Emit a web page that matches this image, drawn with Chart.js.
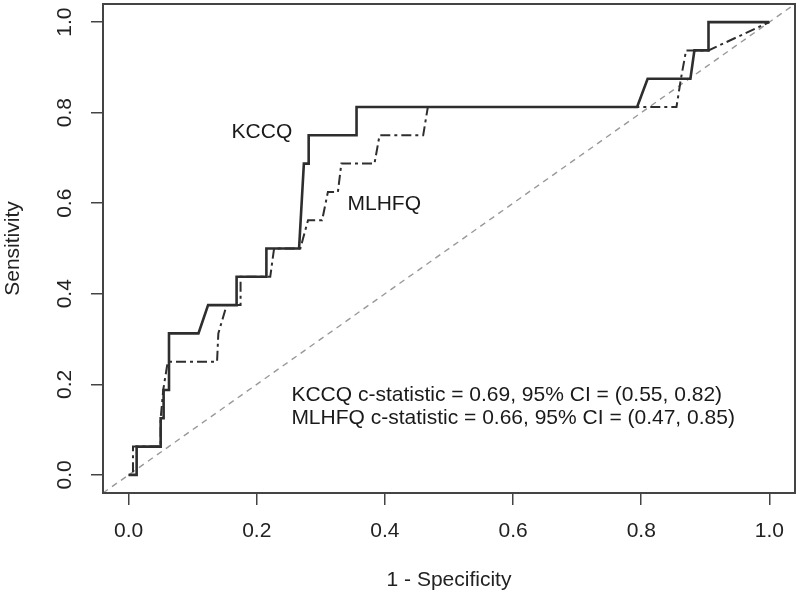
<!DOCTYPE html>
<html><head><meta charset="utf-8">
<script src="https://cdn.jsdelivr.net/npm/chart.js@4.4.1/dist/chart.umd.min.js"></script>
<style>html,body{margin:0;padding:0;background:#fff;}#wrap{width:800px;height:600px;}</style>
</head><body><div id="wrap"><canvas id="c" width="800" height="600"></canvas></div>
<script>
// ROC curve data (1 - specificity, sensitivity)
const kccqFpr = [0, 0.0125, 0.0125, 0.05, 0.05, 0.0546, 0.0546, 0.063, 0.063, 0.109, 0.124, 0.1685, 0.1685, 0.215, 0.215, 0.266, 0.2735, 0.281, 0.281, 0.3557, 0.3557, 0.7936, 0.81, 0.8768, 0.883, 0.905, 0.905, 1];
const kccqTpr = [0, 0, 0.0625, 0.0625, 0.125, 0.125, 0.1875, 0.1875, 0.3125, 0.3125, 0.375, 0.375, 0.4375, 0.4375, 0.5, 0.5, 0.6875, 0.6875, 0.75, 0.75, 0.8125, 0.8125, 0.875, 0.875, 0.9375, 0.9375, 1, 1];
const mlhfqFpr = [0, 0.0068, 0.0068, 0.05, 0.05, 0.054, 0.061, 0.138, 0.140, 0.153, 0.1747, 0.1747, 0.221, 0.227, 0.268, 0.28, 0.302, 0.311, 0.3266, 0.332, 0.3837, 0.3916, 0.4597, 0.467, 0.855, 0.862, 0.870, 0.905, 1];
const mlhfqTpr = [0, 0, 0.0625, 0.0625, 0.125, 0.1875, 0.25, 0.25, 0.3125, 0.375, 0.375, 0.4375, 0.4375, 0.5, 0.5, 0.5625, 0.5625, 0.625, 0.625, 0.6875, 0.6875, 0.75, 0.75, 0.8125, 0.8125, 0.875, 0.9375, 0.9375, 1];
const tickValues = [0, 0.2, 0.4, 0.6, 0.8, 1.0];
const tickLabels = ['0.0', '0.2', '0.4', '0.6', '0.8', '1.0'];
const axisMin = -0.04, axisMax = 1.04;
const curveNames = ['KCCQ', 'MLHFQ'];
const statLines = ['KCCQ c-statistic = 0.69, 95% CI = (0.55, 0.82)', 'MLHFQ c-statistic = 0.66, 95% CI = (0.47, 0.85)'];
const xTitle = '1 - Specificity';
const yTitle = 'Sensitivity';

// text placement (in axis units)
const place = {
  names: [{x: 0.208, y: 0.757}, {x: 0.399, y: 0.597}],
  statsX: 0.254,
  statsY: [0.175, 0.126]
};

const FONT = '"Liberation Sans", Arial, Helvetica, sans-serif';
const pts = (xs, ys) => xs.map((v, i) => ({x: v, y: ys[i]}));

const framePlugin = {
  id: 'frame',
  afterDatasetsDraw(chart) {
    const {ctx, chartArea: a, scales: {x, y}} = chart;
    ctx.save();
    ctx.strokeStyle = '#444';
    ctx.lineWidth = 2;
    ctx.strokeRect(a.left, a.top, a.right - a.left, a.bottom - a.top);
    ctx.fillStyle = '#1a1a1a';
    ctx.font = '21px ' + FONT;
    ctx.textBaseline = 'middle';
    ctx.textAlign = 'center';
    curveNames.forEach((t, i) => ctx.fillText(t, x.getPixelForValue(place.names[i].x), y.getPixelForValue(place.names[i].y)));
    ctx.textAlign = 'left';
    statLines.forEach((t, i) => ctx.fillText(t, x.getPixelForValue(place.statsX), y.getPixelForValue(place.statsY[i])));
    ctx.restore();
  }
};

const setTicks = s => { s.ticks = tickValues.map(v => ({value: v})); };
const lab = v => { const i = tickValues.findIndex(t => Math.abs(t - v) < 1e-9); return i >= 0 ? tickLabels[i] : ''; };

new Chart(document.getElementById('c'), {
  type: 'scatter',
  data: {
    datasets: [
      {label: 'KCCQ', data: pts(kccqFpr, kccqTpr), showLine: true, borderColor: '#2e2e2e', borderWidth: 2.6, pointRadius: 0, fill: false, tension: 0, order: 0},
      {label: 'MLHFQ', data: pts(mlhfqFpr, mlhfqTpr), showLine: true, borderColor: '#2e2e2e', borderWidth: 2, borderDash: [3, 4, 10, 4], pointRadius: 0, fill: false, tension: 0, order: 1},
      {label: 'ref', data: pts([axisMin, axisMax], [axisMin, axisMax]), showLine: true, borderColor: '#999', borderWidth: 1.4, borderDash: [6, 5], pointRadius: 0, fill: false, order: 2}
    ]
  },
  options: {
    responsive: false,
    animation: false,
    devicePixelRatio: 1,
    layout: {padding: {top: 4, right: 5, left: 0, bottom: 0}},
    plugins: {legend: {display: false}, tooltip: {enabled: false}},
    scales: {
      x: {
        type: 'linear', min: axisMin, max: axisMax,
        afterBuildTicks: setTicks,
        afterFit: s => { s.height = 107; s.paddingLeft = 0; s.paddingRight = 0; },
        ticks: {callback: v => lab(v), font: {size: 21, family: FONT}, color: '#222', padding: 14, maxRotation: 0, autoSkip: false},
        grid: {drawOnChartArea: false, drawTicks: true, tickLength: 12, color: '#444', lineWidth: 1.5},
        border: {display: false},
        title: {display: true, text: xTitle, font: {size: 21, family: FONT}, color: '#222', padding: {top: 0, bottom: 7}}
      },
      y: {
        type: 'linear', min: axisMin, max: axisMax,
        afterBuildTicks: setTicks,
        afterFit: s => { s.width = 103; s.paddingTop = 0; s.paddingBottom = 0; },
        ticks: {callback: v => lab(v), font: {size: 21, family: FONT}, color: '#222', padding: 11, minRotation: 90, maxRotation: 90, crossAlign: 'center', autoSkip: false},
        grid: {drawOnChartArea: false, drawTicks: true, tickLength: 12, color: '#444', lineWidth: 1.5},
        border: {display: false},
        title: {display: true, text: yTitle, font: {size: 21, family: FONT}, color: '#222', padding: {top: 1, bottom: 0}}
      }
    }
  },
  plugins: [framePlugin]
});
</script>
</body></html>
